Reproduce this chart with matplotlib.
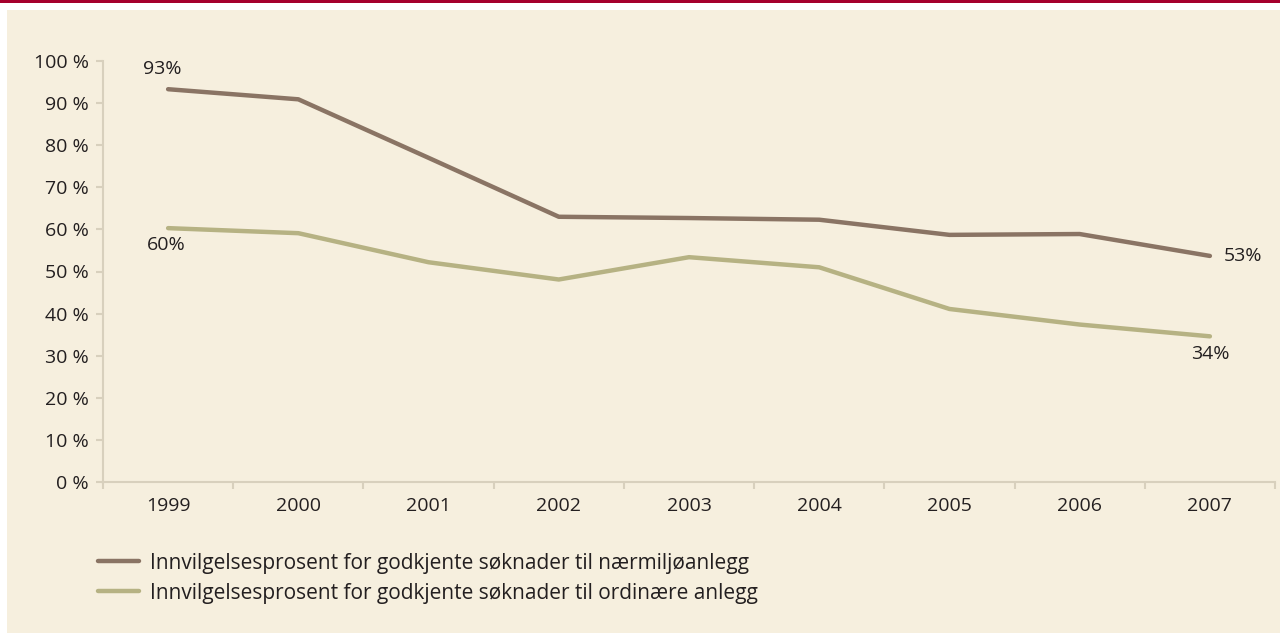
import matplotlib.pyplot as plt
from matplotlib.patches import Rectangle
import numpy as np

plt.rcParams['font.family'] = ['Open Sans', 'DejaVu Sans']

years = ["1999", "2000", "2001", "2002", "2003", "2004", "2005", "2006", "2007"]
naermiljo = [93.3, 90.9, 77.0, 63.0, 62.7, 62.3, 58.7, 58.9, 53.7]
ordinaere = [60.3, 59.1, 52.2, 48.1, 53.4, 51.0, 41.1, 37.4, 34.6]
labels = ["Innvilgelsesprosent for godkjente søknader til nærmiljøanlegg",
          "Innvilgelsesprosent for godkjente søknader til ordinære anlegg"]

brown = "#8a7464"
green = "#b6b283"
beige = "#f6efde"
axcol = "#d8d0bd"
txt = "#231f20"
fs = 14

fig = plt.figure(figsize=(12.8, 6.33), dpi=100)
fig.patch.set_facecolor("white")
fig.patches.append(Rectangle((7/1280, 0), 1, (633-10)/633, transform=fig.transFigure,
                             facecolor=beige, edgecolor="none", zorder=-2))
fig.patches.append(Rectangle((0, 1-3/633), 1, 3/633, transform=fig.transFigure,
                             facecolor="#a5002d", edgecolor="none", zorder=-1))

ax = fig.add_axes([103/1280, 1-482/633, (1275-103)/1280, (482-61)/633])
ax.set_facecolor("none")
x = np.arange(len(years))
ax.plot(x, naermiljo, color=brown, lw=3.2, solid_capstyle="round", label=labels[0])
ax.plot(x, ordinaere, color=green, lw=3.2, solid_capstyle="round", label=labels[1])

ax.set_xlim(-0.5, len(years) - 0.5)
ax.set_ylim(0, 100)
ax.set_yticks(np.arange(0, 101, 10))
ax.set_yticklabels([f"{v} %" for v in range(0, 101, 10)])
ax.set_xticks(x)
ax.set_xticklabels(years)
ax.set_xticks(np.arange(-0.5, len(years), 1), minor=True)
ax.tick_params(axis="x", which="major", length=0, pad=11, labelsize=fs, colors=txt)
ax.tick_params(axis="x", which="minor", length=5, width=1.5, color=axcol)
ax.tick_params(axis="y", length=5, width=1.5, color=axcol, labelsize=fs, labelcolor=txt, pad=5)
for s in ["top", "right"]:
    ax.spines[s].set_visible(False)
for s in ["left", "bottom"]:
    ax.spines[s].set_color(axcol)
    ax.spines[s].set_linewidth(1.5)

ax.annotate(f"{round(naermiljo[0])}%", (x[0], naermiljo[0]), xytext=(-4, 8),
            textcoords="offset points", ha="center", va="bottom", fontsize=fs, color=txt)
ax.annotate(f"{round(ordinaere[0])}%", (x[0], ordinaere[0]), xytext=(-1, -6),
            textcoords="offset points", ha="center", va="top", fontsize=fs, color=txt)
ax.annotate(f"{int(naermiljo[-1])}%", (x[-1], naermiljo[-1]), xytext=(10, 0),
            textcoords="offset points", ha="left", va="center", fontsize=fs, color=txt)
ax.annotate(f"{int(ordinaere[-1])}%", (x[-1], ordinaere[-1]), xytext=(0, -6),
            textcoords="offset points", ha="center", va="top", fontsize=fs, color=txt)

fig.legend(loc="upper left", bbox_to_anchor=(79/1280, 1-534/633), frameon=False,
           fontsize=15, handlelength=2.0, handletextpad=0.5, labelspacing=0.42,
           labelcolor=txt)

fig.savefig("out.png", dpi=100)
